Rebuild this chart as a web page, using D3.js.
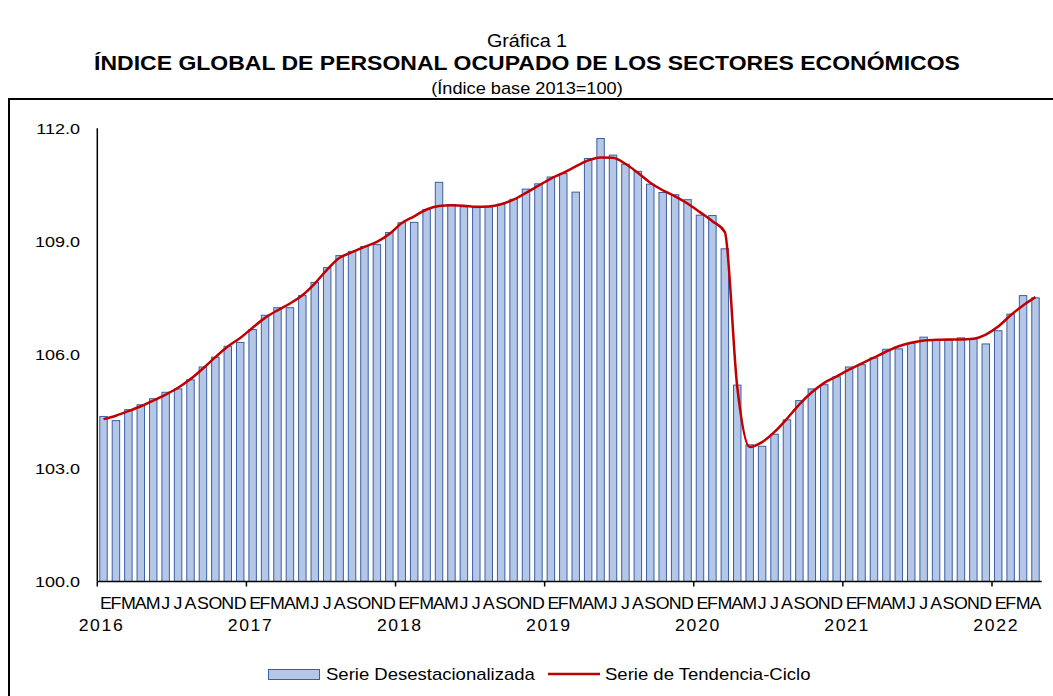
<!DOCTYPE html>
<html>
<head>
<meta charset="utf-8">
<script src="https://cdn.jsdelivr.net/npm/d3@7"></script>
<style>
  body { margin: 0; background: #fff; }
  svg { display: block; font-family: "Liberation Sans", Arial, sans-serif; }
</style>
</head>
<body>
<svg width="1053" height="696"></svg>
<script>
const years = ['2016', '2017', '2018', '2019', '2020', '2021', '2022']
const monthLetters = ['E', 'F', 'M', 'A', 'M', 'J', 'J', 'A', 'S', 'O', 'N', 'D']

// Serie desestacionalizada, ene 2016 - abr 2022
const desest = [
  104.37, 104.26, 104.55, 104.68, 104.84, 105.01, 105.10, 105.34, 105.68, 105.94, 106.23, 106.33,
  106.67, 107.05, 107.25, 107.25, 107.57, 107.92, 108.31, 108.63, 108.74, 108.87, 108.92, 109.24,
  109.50, 109.51, 109.85, 110.57, 109.98, 109.92, 109.90, 109.92, 109.99, 110.12, 110.39, 110.53,
  110.71, 110.80, 110.31, 111.20, 111.73, 111.29, 111.05, 110.86, 110.52, 110.30, 110.24, 110.11,
  109.70, 109.69, 108.81, 105.20, 103.62, 103.58, 103.90, 104.28, 104.79, 105.10, 105.21, 105.42,
  105.68, 105.74, 105.92, 106.15, 106.16, 106.31, 106.47, 106.40, 106.39, 106.45, 106.42, 106.29,
  106.64, 107.08, 107.57, 107.51
]

// Serie de tendencia-ciclo
const tendencia = [
  104.30, 104.39, 104.51, 104.64, 104.79, 104.95, 105.13, 105.36, 105.64, 105.94, 106.22, 106.45,
  106.72, 106.98, 107.18, 107.36, 107.58, 107.89, 108.26, 108.57, 108.72, 108.86, 108.99, 109.20,
  109.49, 109.67, 109.85, 109.94, 109.96, 109.95, 109.92, 109.93, 109.99, 110.11, 110.29, 110.48,
  110.67, 110.82, 110.99, 111.15, 111.23, 111.22, 111.06, 110.82, 110.56, 110.36, 110.20, 110.01,
  109.78, 109.54, 109.25, 105.15, 103.56, 103.69, 103.96, 104.31, 104.69, 105.01, 105.26, 105.43,
  105.61, 105.77, 105.93, 106.09, 106.23, 106.32, 106.38, 106.40, 106.41, 106.41, 106.43, 106.54,
  106.75, 107.05, 107.31, 107.53
]

const yTicks = [100, 103, 106, 109, 112]

const months = desest.map((_, i) => i)
const svg = d3.select('svg')

// text helper: slightly widened text anchored at (x, y)
function label (x, y, str, opts = {}) {
  const g = svg.append('g').attr('transform', `translate(${x},${y}) scale(${opts.sx || 1.12},1)`)
  return g.append('text')
    .attr('text-anchor', opts.anchor || 'middle')
    .attr('font-size', opts.size || 14)
    .attr('font-weight', opts.weight || 'normal')
    .attr('letter-spacing', opts.spacing || 0)
    .attr('fill', '#000')
    .text(str)
}

// frame
svg.append('rect')
  .attr('x', 9).attr('y', 99)
  .attr('width', 1060).attr('height', 620)
  .attr('fill', 'none').attr('stroke', '#000').attr('stroke-width', 2)

// titles
label(527, 47, 'Gráfica 1', { size: 18.5, sx: 1.07 })
label(527, 70, 'ÍNDICE GLOBAL DE PERSONAL OCUPADO DE LOS SECTORES ECONÓMICOS', { size: 20, weight: 'bold', sx: 1.15 })
label(527, 94, '(Índice base 2013=100)', { size: 17, sx: 1.07 })

const x = d3.scaleBand()
  .domain(months)
  .range([97.3, 1041.7])
  .paddingInner(0.4)
  .paddingOuter(0.2)

const y = d3.scaleLinear()
  .domain([100, 112])
  .range([581.5, 128.3])

// bars
svg.append('g')
  .selectAll('rect')
  .data(desest)
  .join('rect')
  .attr('x', (d, i) => x(i))
  .attr('y', d => y(d))
  .attr('width', x.bandwidth())
  .attr('height', d => y(100) - y(d))
  .attr('fill', '#b4c7e7')
  .attr('stroke', '#3b5ea6')
  .attr('stroke-width', 1)

// trend line
const line = d3.line()
  .x((d, i) => x(i) + x.bandwidth() / 2)
  .y(d => y(d))
  .curve(d3.curveMonotoneX)

svg.append('path')
  .datum(tendencia)
  .attr('d', line)
  .attr('fill', 'none')
  .attr('stroke', '#c00000')
  .attr('stroke-width', 2.5)

// y axis
svg.append('line')
  .attr('x1', 97.3).attr('x2', 97.3)
  .attr('y1', y(112)).attr('y2', y(100))
  .attr('stroke', '#000').attr('stroke-width', 1.5)

yTicks.forEach(t => label(80, y(t) + 5.5, d3.format('.1f')(t), { size: 15, anchor: 'end', sx: 1.2 }))

// x axis
svg.append('line')
  .attr('x1', 97.3).attr('x2', 1041.7)
  .attr('y1', y(100)).attr('y2', y(100))
  .attr('stroke', '#000').attr('stroke-width', 1.5)

const step = x.step()
const half = x.bandwidth() / 2
years.forEach((yr, k) => {
  const x0 = x.range()[0] + k * 12 * step
  svg.append('line')
    .attr('x1', x0).attr('x2', x0)
    .attr('y1', y(100)).attr('y2', y(100) + 5)
    .attr('stroke', '#000').attr('stroke-width', 1.5)
  label(x(k * 12) + half - 2, 631, yr, { size: 16, spacing: 1.5, sx: 1.1 })
})

// month initials; January sits a little right, against the F
months.forEach(i => {
  const shift = i % 12 === 0 ? 2.5 : 0
  label(x(i) + half + shift, 609, monthLetters[i % 12], { size: 16.2, sx: 1.1 })
})

// legend
svg.append('rect')
  .attr('x', 268.5).attr('y', 669.5)
  .attr('width', 51).attr('height', 10)
  .attr('fill', '#b4c7e7').attr('stroke', '#3b5ea6').attr('stroke-width', 1)
label(326, 680, 'Serie Desestacionalizada', { size: 15.7, anchor: 'start', sx: 1.18 })

svg.append('line')
  .attr('x1', 548).attr('x2', 600)
  .attr('y1', 674).attr('y2', 674)
  .attr('stroke', '#c00000').attr('stroke-width', 2.5)
label(605, 680, 'Serie de Tendencia-Ciclo', { size: 15.7, anchor: 'start', sx: 1.18 })
</script>
</body>
</html>
